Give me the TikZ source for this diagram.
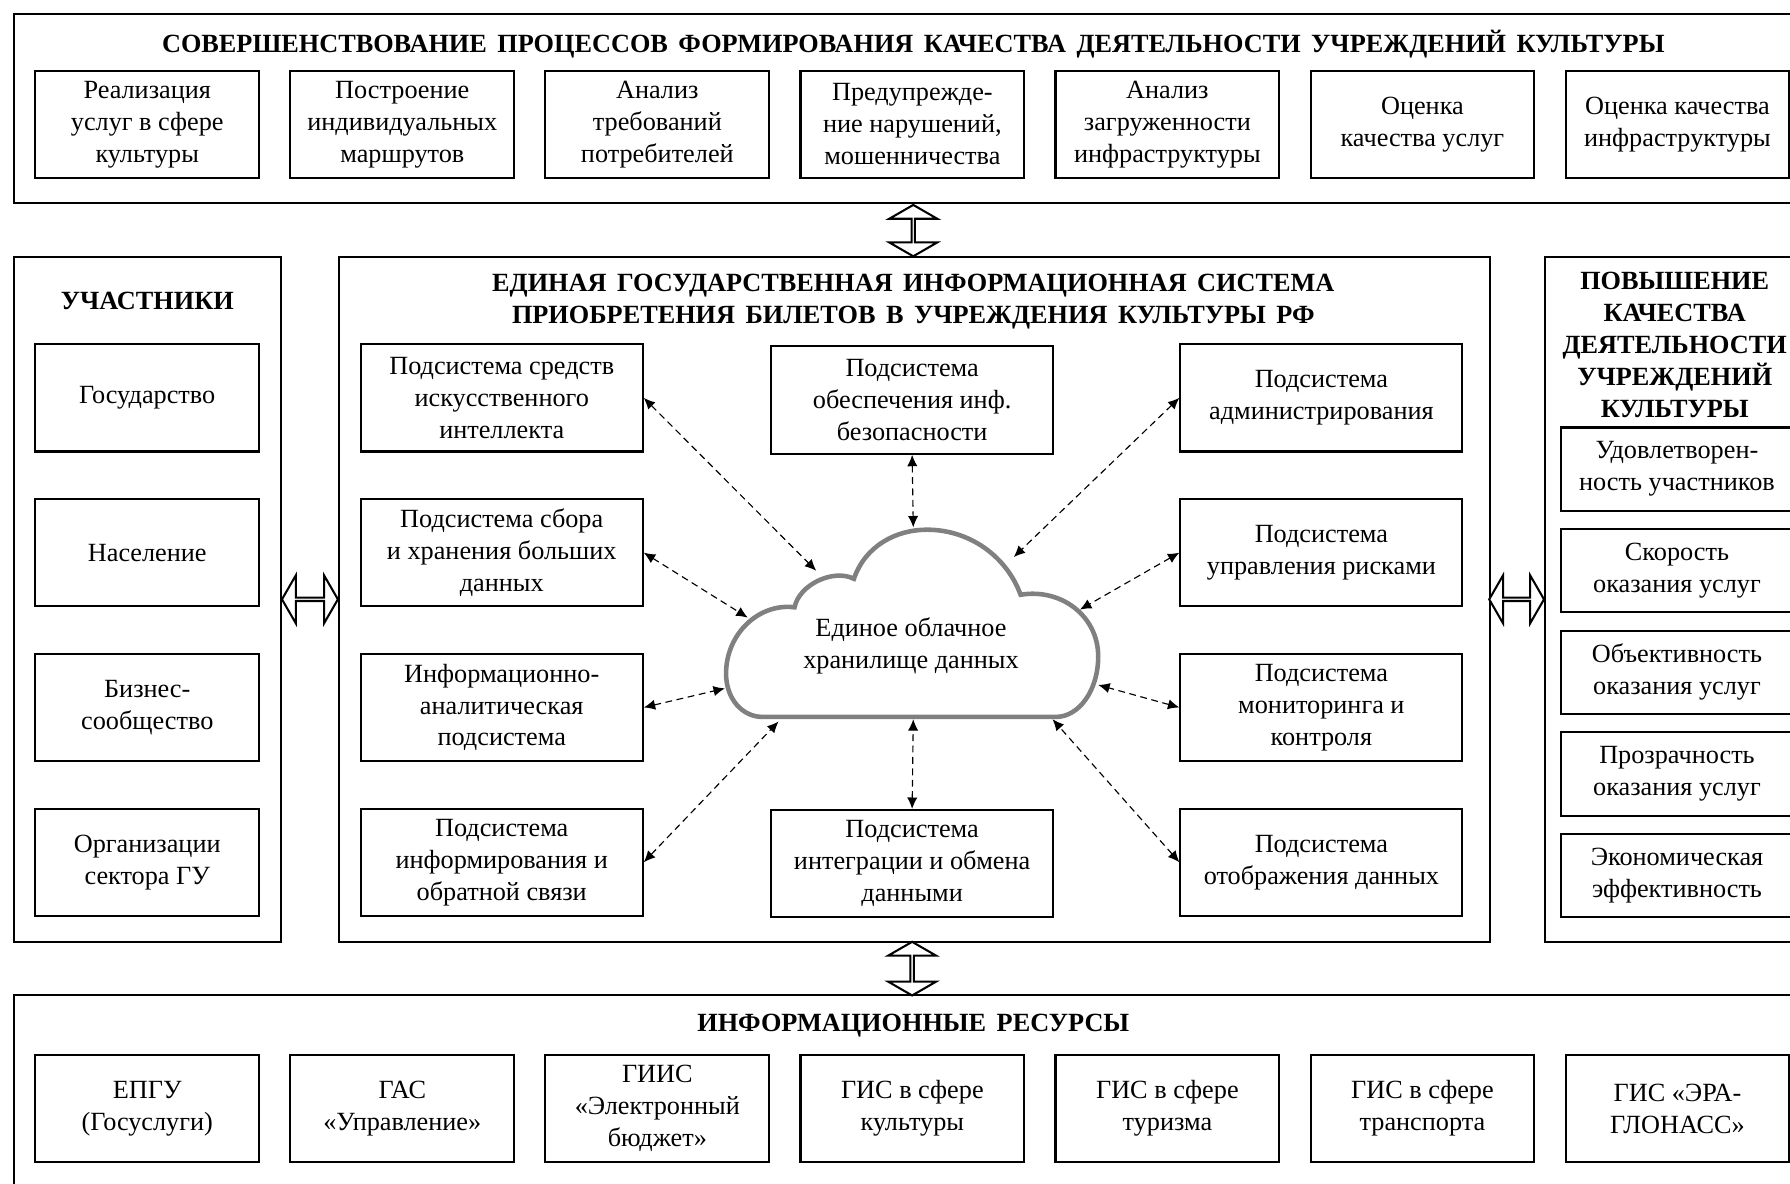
\documentclass[tikz,border=0pt]{standalone}
\usepackage{fontspec}
\setmainfont{Liberation Serif}
\usetikzlibrary{shapes,arrows.meta,fit,positioning}
\definecolor{cloudgray}{rgb}{.5,.5,.5}
\newcommand\wg{\hspace{4.6pt}}
\def\Upper{СОВЕРШЕНСТВОВАНИЕ\wg ПРОЦЕССОВ\wg ФОРМИРОВАНИЯ\wg КАЧЕСТВА\wg ДЕЯТЕЛЬНОСТИ\wg УЧРЕЖДЕНИЙ\wg КУЛЬТУРЫ}

\begin{document}
\begin{tikzpicture}[% styles for the whole scheme, y runs downwards
			x=0.5pt,y=-0.5pt,
			every node/.style={
				align=center,  		% so that "\\" breaks the lines
				font=\fontsize{11.5}{14}\selectfont
			},
			box/.style={rectangle,draw=black,line width=0.9pt,minimum width=98pt,minimum height=47pt,inner sep=1pt},
			sub/.style={box,minimum width=123.5pt},
			goal/.style={box,minimum width=102pt,minimum height=36.5pt},
			heading/.style={font=\fontsize{11.5}{14}\selectfont\bfseries},
			panel/.style={draw=black,line width=0.9pt},
			wide/.style={double arrow,draw=black,fill=white,line width=0.9pt,minimum width=21pt,
				double arrow head extend=6pt,double arrow tip angle=120,inner sep=0pt},
			every edge/.style={draw,line width=0.5pt,dash pattern=on 3pt off 2pt},
			>={Latex[length=5pt,width=4.5pt]},
			node distance=12.8pt
		]
		\useasboundingbox (0,0) rectangle (1568,1037);
		\clip (0,0) rectangle (1568,1037);
		% frames
		\draw[panel] (12,12) rectangle (1620,178);
		\draw[panel] (12,225) rectangle (246,825);
		\draw[panel] (297,225) rectangle (1305,825);
		\draw[panel] (1353,225) rectangle (1620,825);
		\draw[panel] (12,872) rectangle (1620,1100);
		% upper row
		\node[heading](H1) at (800,39){\Upper};
		\node[box](T1) at (129,109){Реализация\\услуг в сфере\\культуры};
		\node[box](T2)[right= of T1]{Построение\\индивидуальных\\маршрутов};
		\node[box](T3)[right= of T2]{Анализ\\требований\\потребителей};
		\node[box](T4)[right= of T3]{Предупрежде-\\ние нарушений,\\мошенничества};
		\node[box](T5)[right= of T4]{Анализ\\загруженности\\инфраструктуры};
		\node[box](T6)[right= of T5]{Оценка\\качества услуг};
		\node[box](T7)[right= of T6]{Оценка качества\\инфраструктуры};
		% participants
		\node[heading](H2) at (129,264){УЧАСТНИКИ};
		\node[box](P1) at (129,348.5){Государство};
		\node[box](P2)[below=19.9pt of P1]{Население};
		\node[box](P3)[below=19.9pt of P2]{Бизнес-\\сообщество};
		\node[box](P4)[below=19.9pt of P3]{Организации\\сектора ГУ};
		% system
		\node[heading](H3) at (800,264.5){ЕДИНАЯ\wg ГОСУДАРСТВЕННАЯ\wg ИНФОРМАЦИОННАЯ\wg СИСТЕМА\\ПРИОБРЕТЕНИЯ\wg БИЛЕТОВ\wg В\wg УЧРЕЖДЕНИЯ\wg КУЛЬТУРЫ\wg РФ};
		\node[sub](S1) at (439.5,348.5){Подсистема средств\\искусственного\\интеллекта};
		\node[sub](S2)[below=19.9pt of S1]{Подсистема сбора\\и хранения больших\\данных};
		\node[sub](S3)[below=19.9pt of S2]{Информационно-\\аналитическая\\подсистема};
		\node[sub](S4)[below=19.9pt of S3]{Подсистема\\информирования и\\обратной связи};
		\node[sub](S5) at (799,350.5){Подсистема\\обеспечения инф.\\безопасности};
		\node[sub](S6) at (799,756.5){Подсистема\\интеграции и обмена\\данными};
		\node[sub](S7) at (1157.5,348.5){Подсистема\\администрирования};
		\node[sub](S8)[below=19.9pt of S7]{Подсистема\\управления рисками};
		\node[sub](S9)[below=19.9pt of S8]{Подсистема\\мониторинга и\\контроля};
		\node[sub](S10)[below=19.9pt of S9]{Подсистема\\отображения данных};
		% cloud
		\draw[cloudgray,line width=2pt]
			(668,628) .. controls (650,628) and (636,612) .. (636,590)
			.. controls (636,555) and (665,528) .. (696,532)
			.. controls (700,512) and (730,498) .. (748,507)
			.. controls (758,478) and (785,464) .. (812,464)
			.. controls (850,464) and (882,488) .. (894,521)
			.. controls (930,515) and (962,540) .. (962,575)
			.. controls (962,605) and (945,628) .. (925,628) -- cycle;
		\node(C) at (798,566){Единое облачное\\хранилище данных};
		\coordinate (C1) at (715,500);
		\coordinate (C2) at (655,541);
		\coordinate (C3) at (635,603);
		\coordinate (C4) at (682,632);
		\coordinate (C5) at (800,462);
		\coordinate (C6) at (800,630);
		\coordinate (C7) at (888,488);
		\coordinate (C8) at (946,534);
		\coordinate (C9) at (962,600);
		\coordinate (C10) at (922,630);
		\path[<->]
		(S1.east)edge (C1)
		(S2.east)edge (C2)
		(S3.east)edge (C3)
		(S4.east)edge (C4)
		(S5.south)edge (C5)
		(S6.north)edge (C6)
		(S7.west)edge (C7)
		(S8.west)edge (C8)
		(S9.west)edge (C9)
		(S10.west)edge (C10)
		;
		% quality
		\node[heading](H4) at (1467,302){ПОВЫШЕНИЕ\\КАЧЕСТВА\\ДЕЯТЕЛЬНОСТИ\\УЧРЕЖДЕНИЙ\\КУЛЬТУРЫ};
		\node[goal](Q1) at (1469,411){Удовлетворен-\\ность участников};
		\node[goal](Q2)[below=7.1pt of Q1]{Скорость\\оказания услуг};
		\node[goal](Q3)[below=7.1pt of Q2]{Объективность\\оказания услуг};
		\node[goal](Q4)[below=7.1pt of Q3]{Прозрачность\\оказания услуг};
		\node[goal](Q5)[below=7.1pt of Q4]{Экономическая\\эффективность};
		% resources
		\node[heading](H5) at (800,898){ИНФОРМАЦИОННЫЕ\wg РЕСУРСЫ};
		\node[box](R1) at (129,971){ЕПГУ\\(Госуслуги)};
		\node[box](R2)[right= of R1]{ГАС\\«Управление»};
		\node[box](R3)[right= of R2]{ГИИС\\«Электронный\\бюджет»};
		\node[box](R4)[right= of R3]{ГИС в сфере\\культуры};
		\node[box](R5)[right= of R4]{ГИС в сфере\\туризма};
		\node[box](R6)[right= of R5]{ГИС в сфере\\транспорта};
		\node[box](R7)[right= of R6]{ГИС «ЭРА-\\ГЛОНАСС»};
		% hollow arrows between the frames
		\node[wide,rotate=90,minimum height=22.5pt](A1) at (800,202){};
		\node[wide,minimum height=24.5pt](A2) at (271.5,525){};
		\node[wide,minimum height=24pt](A3) at (1328.5,525){};
		\node[wide,rotate=90,minimum height=23.5pt](A4) at (799,848.5){};
	\end{tikzpicture}
\end{document}
